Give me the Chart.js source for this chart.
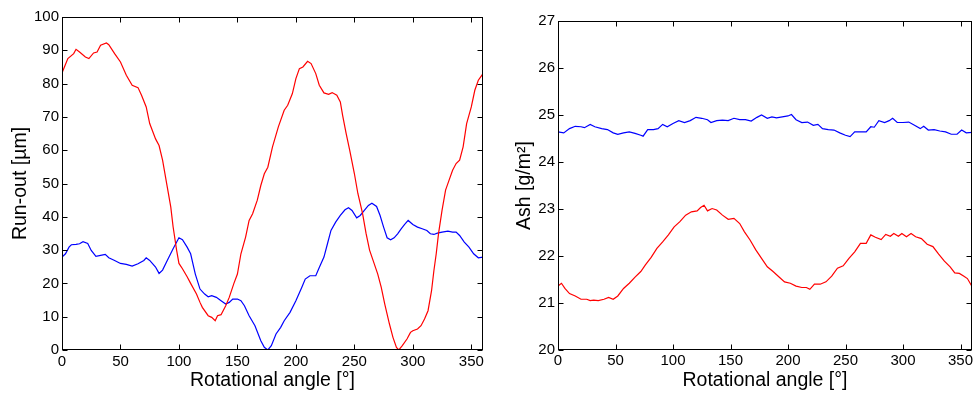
<!DOCTYPE html>
<html>
<head>
<meta charset="utf-8">
<script src="https://cdn.jsdelivr.net/npm/chart.js@4.4.1/dist/chart.umd.min.js"></script>
<style>
  html, body { margin: 0; padding: 0; background: #fff; }
  body { width: 977px; height: 395px; position: relative; overflow: hidden; }
  canvas { position: absolute; top: 0; }
  #runoutChart { left: 0; }
  #ashChart { left: 490px; }
</style>
</head>
<body>
<canvas id="runoutChart" width="490" height="395"></canvas>
<canvas id="ashChart" width="487" height="395"></canvas>
<script>
// tick values
let xTicks = [0, 50, 100, 150, 200, 250, 300, 350];
let runoutTicks = [0, 10, 20, 30, 40, 50, 60, 70, 80, 90, 100];
let ashTicks = [20, 21, 22, 23, 24, 25, 26, 27];

// run-out, red trace
let runRedAngle = [0, 5, 10, 12, 15, 20, 23, 27, 30, 33, 38, 40, 45, 50, 55, 60, 65, 68, 72, 75, 80, 83, 86, 90, 93, 95, 98, 100, 103, 107, 110, 115, 118, 120, 125, 128, 131, 133, 136, 140, 143, 147, 150, 153, 157, 160, 163, 167, 170, 173, 176, 180, 185, 190, 193, 197, 200, 203, 206, 210, 213, 217, 220, 224, 228, 231, 235, 238, 240, 243, 246, 250, 253, 257, 260, 263, 266, 270, 273, 276, 280, 283, 286, 288, 291, 295, 298, 300, 304, 307, 310, 313, 316, 318, 320, 322, 325, 328, 331, 334, 337, 340, 343, 346, 350, 353, 356, 360];
let runRed = [83.2, 87.5, 89, 90.3, 89.5, 88, 87.5, 89.2, 89.5, 91.5, 92.2, 91.7, 89, 86.5, 82.5, 79.5, 78.8, 76.5, 73, 68, 63.4, 61.4, 57, 49, 43, 37, 30, 26, 24.4, 22, 20, 16.8, 14.3, 12.8, 10.3, 9.8, 8.8, 10.3, 10.6, 13.3, 15.8, 20, 22.8, 28.9, 33.9, 38.9, 40.9, 45, 49.4, 52.9, 54.9, 61, 67, 72, 73.5, 77, 81.5, 84.5, 85, 86.7, 86, 83, 79.5, 77.2, 76.8, 77.3, 76.5, 74.5, 70.4, 65, 60, 53, 47, 41, 35, 30, 26.9, 22.8, 18.8, 13.8, 7.8, 3.8, 0.8, 0, 1.3, 3.3, 5.3, 5.8, 6.3, 7.3, 9.3, 11.8, 17.8, 23.8, 28.9, 35, 42, 48, 51, 54, 56, 57, 61, 68, 73, 78, 81, 83];

// run-out, blue trace
let runBlueAngle = [0, 3, 6, 8, 12, 15, 18, 22, 25, 29, 33, 37, 40, 45, 50, 55, 60, 65, 70, 72, 75, 80, 83, 86, 90, 95, 100, 103, 107, 110, 114, 118, 122, 125, 128, 132, 136, 140, 143, 146, 150, 153, 156, 160, 165, 170, 173, 176, 179, 183, 187, 190, 195, 200, 205, 208, 212, 217, 220, 224, 227, 230, 234, 238, 242, 245, 248, 252, 255, 258, 262, 265, 269, 272, 275, 278, 281, 284, 287, 290, 293, 296, 300, 304, 308, 312, 315, 318, 321, 325, 330, 334, 337, 340, 344, 348, 352, 356, 360];
let runBlue = [27.9, 28.9, 30.9, 31.6, 31.7, 31.9, 32.5, 32, 29.9, 28.1, 28.4, 28.7, 27.7, 26.9, 26, 25.7, 25.2, 25.9, 26.9, 27.7, 26.9, 24.9, 23, 24, 26.9, 30.4, 33.7, 33.1, 30.9, 28.9, 22.8, 18.3, 16.8, 16, 16.3, 15.8, 14.8, 13.8, 14.3, 15.3, 15.3, 14.8, 13.3, 10.3, 7.3, 2.8, 0.8, 0, 1.3, 4.8, 6.8, 8.8, 11.3, 14.8, 18.8, 21.3, 22.3, 22.3, 24.8, 27.9, 31.9, 35.9, 38.4, 40.4, 42.1, 42.7, 41.9, 39.7, 40.4, 41.7, 43.4, 44.1, 43.1, 40.4, 36.9, 33.7, 33.1, 33.7, 34.9, 36.4, 37.7, 38.9, 37.7, 36.9, 36.4, 35.9, 34.9, 34.7, 35.1, 35.4, 35.7, 35.4, 35.4, 34.4, 32.4, 30.9, 28.9, 27.7, 27.9];

// ash, blue trace
let ashBlueAngle = [0, 5, 10, 15, 20, 23, 28, 32, 38, 43, 48, 52, 57, 62, 67, 72, 74, 78, 83, 87, 91, 95, 100, 105, 110, 115, 120, 125, 130, 133, 138, 143, 148, 153, 158, 163, 168, 173, 177, 182, 186, 190, 195, 200, 203, 207, 212, 217, 222, 226, 230, 235, 240, 245, 250, 254, 258, 263, 268, 272, 275, 279, 284, 288, 291, 295, 300, 305, 310, 315, 318, 322, 327, 332, 337, 342, 347, 351, 355, 360];
let ashBlue = [24.64, 24.62, 24.71, 24.76, 24.75, 24.73, 24.8, 24.75, 24.71, 24.69, 24.62, 24.59, 24.62, 24.64, 24.61, 24.57, 24.55, 24.69, 24.69, 24.71, 24.8, 24.75, 24.82, 24.88, 24.84, 24.88, 24.95, 24.93, 24.9, 24.84, 24.88, 24.89, 24.88, 24.93, 24.9, 24.9, 24.87, 24.95, 25.0, 24.93, 24.96, 24.94, 24.96, 24.98, 25.01, 24.9, 24.84, 24.85, 24.78, 24.8, 24.71, 24.69, 24.68, 24.62, 24.57, 24.54, 24.64, 24.64, 24.64, 24.75, 24.74, 24.88, 24.84, 24.88, 24.93, 24.84, 24.84, 24.85, 24.78, 24.71, 24.76, 24.68, 24.69, 24.66, 24.64, 24.59, 24.59, 24.68, 24.62, 24.63];

// ash, red trace
let ashRedAngle = [0, 3, 6, 10, 15, 20, 25, 28, 31, 35, 40, 44, 48, 52, 57, 62, 67, 72, 76, 81, 86, 91, 96, 101, 106, 111, 116, 121, 124, 127, 130, 134, 138, 143, 148, 153, 158, 162, 167, 172, 177, 182, 187, 192, 197, 202, 207, 212, 216, 219, 223, 228, 233, 238, 243, 248, 253, 258, 263, 268, 272, 276, 281, 285, 289, 292, 296, 299, 303, 307, 311, 316, 321, 326, 331, 336, 341, 345, 349, 353, 356, 360];
let ashRed = [21.36, 21.42, 21.31, 21.2, 21.15, 21.08, 21.08, 21.05, 21.06, 21.05, 21.08, 21.12, 21.08, 21.15, 21.31, 21.42, 21.55, 21.67, 21.81, 21.97, 22.16, 22.3, 22.45, 22.62, 22.73, 22.87, 22.94, 22.96, 23.03, 23.08, 22.96, 23.01, 22.98, 22.87, 22.78, 22.8, 22.69, 22.52, 22.34, 22.13, 21.95, 21.77, 21.67, 21.56, 21.45, 21.42, 21.36, 21.33, 21.33, 21.29, 21.4, 21.4, 21.45, 21.57, 21.74, 21.79, 21.95, 22.09, 22.27, 22.27, 22.45, 22.4, 22.35, 22.46, 22.42, 22.48, 22.42, 22.48, 22.41, 22.48, 22.41, 22.37, 22.25, 22.2, 22.04, 21.89, 21.77, 21.64, 21.63, 21.57, 21.52, 21.35];

const FONT = "'Liberation Sans', Arial, sans-serif";

function pairs(xs, ys) {
    return xs.map((v, i) => ({ x: v, y: ys[i] }));
}

// box round the plot area with short ticks pointing inwards on all four sides
const framePlugin = {
    id: 'frame',
    afterDraw(chart) {
        const { ctx, chartArea: a, scales: { x, y } } = chart;
        const L = Math.round(a.left) + 0.5, R = Math.round(a.right) - 0.5;
        const T = Math.round(a.top) + 0.5, B = Math.round(a.bottom) - 0.5;
        const len = 5;
        ctx.save();
        ctx.strokeStyle = '#000';
        ctx.lineWidth = 1;
        ctx.strokeRect(L, T, R - L, B - T);
        ctx.beginPath();
        x.ticks.forEach(t => {
            const px = Math.round(x.getPixelForValue(t.value)) + 0.5;
            ctx.moveTo(px, B); ctx.lineTo(px, B - len);
            ctx.moveTo(px, T); ctx.lineTo(px, T + len);
        });
        y.ticks.forEach(t => {
            const py = Math.round(y.getPixelForValue(t.value)) + 0.5;
            ctx.moveTo(L, py); ctx.lineTo(L + len, py);
            ctx.moveTo(R, py); ctx.lineTo(R - len, py);
        });
        ctx.stroke();
        ctx.restore();
    }
};

function makeChart(id, cfg) {
    return new Chart(document.getElementById(id), {
        type: 'line',
        data: {
            datasets: cfg.series.map(s => ({
                data: pairs(s.angle, s.values),
                borderColor: s.color,
                borderWidth: 1.2,
                pointRadius: 0,
                tension: 0,
                fill: false
            }))
        },
        options: {
            responsive: false,
            animation: false,
            layout: { padding: cfg.padding },
            plugins: { legend: { display: false }, tooltip: { enabled: false } },
            scales: {
                x: {
                    type: 'linear',
                    min: 0,
                    max: 360,
                    afterBuildTicks: s => { s.ticks = xTicks.map(v => ({ value: v })); },
                    afterFit: s => { s.height = 45; },
                    grid: { display: false, drawTicks: false },
                    border: { display: false },
                    ticks: { padding: cfg.xTickPad, color: '#000', font: { family: FONT, size: 15 } },
                    title: {
                        display: true,
                        text: 'Rotational angle [°]',
                        color: '#000',
                        padding: { top: 0, bottom: 3 },
                        font: { family: FONT, size: 19.5 }
                    }
                },
                y: {
                    type: 'linear',
                    min: cfg.yMin,
                    max: cfg.yMax,
                    afterBuildTicks: s => { s.ticks = cfg.yTicks.map(v => ({ value: v })); },
                    afterFit: s => { s.width = cfg.yWidth; },
                    grid: { display: false, drawTicks: false },
                    border: { display: false },
                    ticks: { padding: 3, color: '#000', font: { family: FONT, size: 15 } },
                    title: {
                        display: true,
                        text: cfg.yTitle,
                        color: '#000',
                        padding: { top: cfg.yTitlePad, bottom: 0 },
                        font: { family: FONT, size: 19.5 }
                    }
                }
            }
        },
        plugins: [framePlugin]
    });
}

makeChart('runoutChart', {
    series: [
        { angle: runRedAngle, values: runRed, color: '#ff0000' },
        { angle: runBlueAngle, values: runBlue, color: '#0000ff' }
    ],
    padding: { top: 17, right: 7, left: 0, bottom: 0 },
    yMin: 0, yMax: 100, yTicks: runoutTicks,
    yWidth: 62, yTitle: 'Run-out [µm]', yTitlePad: 9, xTickPad: 3
});

makeChart('ashChart', {
    series: [
        { angle: ashBlueAngle, values: ashBlue, color: '#0000ff' },
        { angle: ashRedAngle, values: ashRed, color: '#ff0000' }
    ],
    padding: { top: 21, right: 5, left: 0, bottom: 0 },
    yMin: 20, yMax: 27, yTicks: ashTicks,
    yWidth: 68, yTitle: 'Ash [g/m²]', yTitlePad: 23, xTickPad: 2
});
</script>
</body>
</html>
